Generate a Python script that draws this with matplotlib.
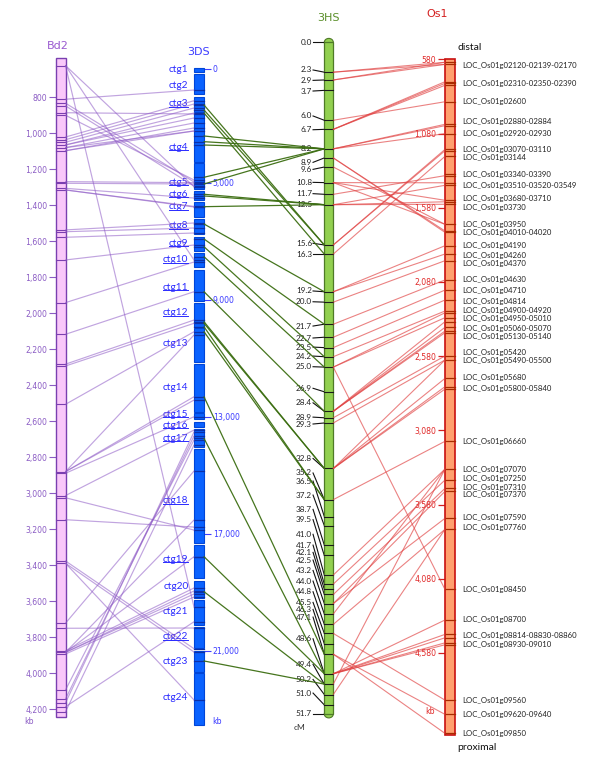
import numpy as np
import matplotlib
matplotlib.use("Agg")
import matplotlib.pyplot as plt
from matplotlib.patches import Rectangle, Ellipse, ConnectionPatch
from matplotlib.lines import Line2D
from matplotlib.transforms import IdentityTransform

# ---------------- data ----------------
bd2_range = (582, 4243)                      # kb
bd2_ticks = list(range(800, 4201, 200))
bd2_bands = [624, 811, 833, 848, 886, 900, 1021, 1036, 1050, 1065, 1080, 1097,
             1269, 1278, 1306, 1315, 1537, 1547, 1578, 1704, 1941, 2117, 2283,
             2293, 2506, 2880, 2889, 3013, 3025, 3147, 3376, 3389, 3722, 3750,
             3875, 3884, 3893, 4093, 4143, 4164, 4186, 4214]

ctg_names = ["ctg%d" % i for i in range(1, 25)]
ctg_start = [-40, 245, 1225, 1925, 4138, 5263, 5639, 6221, 6836, 7380, 7975, 9093,
             9968, 11188, 12874, 13161, 13421, 14105, 17377, 18597, 19257, 20191,
             21002, 21765]
ctg_end = [130, 1120, 1881, 4068, 5215, 5581, 6152, 6744, 7325, 7880, 9035, 9913,
           11110, 12819, 13069, 13353, 14016, 17298, 18515, 19199, 20112, 20909,
           21710, 23543]
ctg_label_pos = [57, 744, 1544, 3438, 4969, 5386, 5810, 6460, 7062, 7633, 8567,
                 9434, 10505, 11985, 12908, 13285, 13730, 15864, 17868, 18781,
                 19660, 20515, 21370, 22587]
ctg_underlined = [3, 4, 5, 6, 7, 8, 9, 10, 11, 12, 15, 16, 17, 18, 19, 22]
ds_ticks = [0, 5000, 9000, 13000, 17000, 21000]
ds_range = (-380, 23702)

hs_markers = [0.0, 2.3, 2.9, 3.7, 6.0, 6.7, 8.2, 8.9, 9.6, 10.8, 11.7, 12.5, 15.6,
              16.3, 19.2, 20.0, 21.7, 22.7, 23.5, 24.2, 25.0, 26.9, 28.4, 28.9,
              29.3, 32.8, 35.2, 36.5, 37.2, 38.7, 39.5, 41.0, 41.7, 42.1, 42.5,
              43.2, 44.0, 44.8, 45.5, 46.3, 47.1, 48.6, 49.4, 50.2, 51.0, 51.7]
hs_label_pos = [0.0, 2.13, 2.93, 3.75, 5.67, 6.73, 8.16, 9.24, 9.78, 10.78, 11.65,
                12.45, 15.47, 16.30, 19.14, 19.97, 21.84, 22.76, 23.46, 24.15,
                24.97, 26.63, 27.75, 28.85, 29.38, 32.03, 33.15, 33.77, 34.85,
                35.95, 36.74, 37.87, 38.70, 39.26, 39.85, 40.65, 41.47, 42.29,
                43.11, 43.65, 44.24, 45.91, 47.88, 49.04, 50.09, 51.70]

os_range = (580, 5133)
os_ticks = [580, 1080, 1580, 2080, 2580, 3080, 3580, 4080, 4580]
os_bands = [600, 614, 731, 742, 755, 866, 1018, 1027, 1081, 1187, 1196, 1234,
            1351, 1364, 1412, 1429, 1530, 1540, 1557, 1692, 1737, 1746, 1836,
            1892, 1937, 2067, 2135, 2202, 2276, 2288, 2321, 2348, 2386, 2411,
            2422, 2579, 2606, 2730, 2786, 2802, 3154, 3341, 3415, 3471, 3491,
            3673, 3747, 4152, 4358, 4455, 4478, 4512, 4525, 4898, 4994, 5122]
gene_labels = ["LOC_Os01g02120-02139-02170", "LOC_Os01g02310-02350-02390",
               "LOC_Os01g02600", "LOC_Os01g02880-02884", "LOC_Os01g02920-02930",
               "LOC_Os01g03070-03110", "LOC_Os01g03144", "LOC_Os01g03340-03390",
               "LOC_Os01g03510-03520-03549", "LOC_Os01g03680-03710",
               "LOC_Os01g03730", "LOC_Os01g03950", "LOC_Os01g04010-04020",
               "LOC_Os01g04190", "LOC_Os01g04260", "LOC_Os01g04370",
               "LOC_Os01g04630", "LOC_Os01g04710", "LOC_Os01g04814",
               "LOC_Os01g04900-04920", "LOC_Os01g04950-05010",
               "LOC_Os01g05060-05070", "LOC_Os01g05130-05140", "LOC_Os01g05420",
               "LOC_Os01g05490-05500", "LOC_Os01g05680", "LOC_Os01g05800-05840",
               "LOC_Os01g06660", "LOC_Os01g07070", "LOC_Os01g07250",
               "LOC_Os01g07310", "LOC_Os01g07370", "LOC_Os01g07590",
               "LOC_Os01g07760", "LOC_Os01g08450", "LOC_Os01g08700",
               "LOC_Os01g08814-08830-08860", "LOC_Os01g08930-09010",
               "LOC_Os01g09560", "LOC_Os01g09620-09640", "LOC_Os01g09850"]
gene_label_pos = [623, 744, 866, 996, 1077, 1191, 1245, 1358, 1432, 1521, 1580,
                  1692, 1746, 1836, 1901, 1955, 2067, 2135, 2209, 2276, 2328,
                  2391, 2445, 2557, 2611, 2726, 2800, 3154, 3346, 3408, 3462,
                  3514, 3666, 3737, 4152, 4357, 4464, 4522, 4902, 4992, 5125]

# Bd2 kb -> 3DS kb
bd2_ds = [(624, 5126), (624, 7633), (624, 19496), (811, 932), (833, 4956),
          (848, 5103), (886, 1981), (900, 4868), (1021, 1400), (1036, 1544),
          (1050, 1719), (1065, 1938), (1065, 2156), (1080, 2375), (1097, 2594),
          (1097, 2725), (1080, 2725), (1269, 4986), (1278, 5034), (1306, 5513),
          (1315, 5821), (1315, 5800), (1537, 6368), (1547, 6539), (1578, 6710),
          (1704, 7120), (1941, 7701), (2117, 8717), (2283, 9685), (2293, 9798),
          (2506, 10085), (2880, 10198), (2880, 12308), (2880, 12421),
          (2889, 12992), (3013, 13447), (3025, 16866), (3147, 16764),
          (3376, 20923), (3389, 21036), (3389, 22675), (3722, 14847),
          (3750, 20215), (3875, 18847), (3884, 18949), (3884, 19052),
          (3893, 19154), (3884, 17777), (3884, 16522), (4093, 13788),
          (4143, 13651), (4164, 13514), (4186, 20001), (4214, 13959)]
# 3DS kb -> 3HS cM
ds_hs = [(1588, 15.6), (1807, 15.6), (1938, 16.3), (2944, 8.2), (3193, 8.2),
         (3338, 8.2), (4750, 8.2), (5034, 8.2), (5386, 12.5), (5444, 12.5),
         (5810, 12.5), (6402, 19.2), (6915, 21.7), (7179, 24.2), (7521, 25.0),
         (8717, 28.4), (9744, 32.8), (9798, 32.8), (9915, 35.2), (10085, 35.2),
         (12308, 47.1), (13730, 48.6), (17776, 48.6), (18973, 49.4),
         (21342, 49.4)]
# 3HS cM -> Os1 kb
hs_os = [(2.3, 600), (2.3, 614), (2.9, 600), (2.9, 614), (6.0, 866), (6.7, 731),
         (6.7, 742), (6.7, 755), (8.2, 1018), (8.2, 1027), (8.2, 1081),
         (8.9, 1737), (8.9, 1746), (9.6, 1692), (10.8, 1412), (10.8, 1530),
         (10.8, 1692), (11.7, 1364), (12.5, 1429), (12.5, 1540), (12.5, 1557),
         (15.6, 1187), (15.6, 1196), (16.3, 1234), (19.2, 1836), (19.2, 1892),
         (20.0, 1937), (21.7, 2067), (22.7, 2135), (23.5, 2202), (24.2, 2276),
         (25.0, 2288), (25.0, 2321), (25.0, 4152), (28.4, 2348), (28.4, 2386),
         (28.4, 2411), (28.4, 2422), (28.9, 2579), (29.3, 2606), (32.8, 2606),
         (32.8, 2730), (32.8, 2786), (32.8, 2802), (35.2, 3154), (41.0, 3341),
         (41.7, 3415), (42.5, 3471), (43.2, 3491), (43.2, 3673), (44.0, 3341),
         (44.8, 3747), (45.5, 4898), (47.1, 4994), (47.1, 5122), (48.6, 4358),
         (48.6, 4455), (48.6, 4478), (48.6, 4512), (48.6, 4525), (49.4, 3341),
         (50.2, 3747)]

# ---------------- styles ----------------
PURPLE_TXT = "#8b5cc4"
BLUE = "#2a2aff"
GREEN_TXT = "#5a8f29"
RED = "#d42020"
NUMFONT = ["DejaVu Sans"]
TXTFONT = ["Lato", "DejaVu Sans"]

W, H = 600, 760
fig = plt.figure(figsize=(W / 100, H / 100), dpi=100)


def add_col(x0, x1, y0, y1):
    ax = fig.add_axes([x0 / W, 1 - y1 / H, (x1 - x0) / W, (y1 - y0) / H])
    ax.set_xlim(0, 1)
    ax.set_xticks([])
    for s in ax.spines.values():
        s.set_visible(False)
    ax.patch.set_visible(False)
    return ax


def ftext(x, y, s, **kw):
    return fig.text(x / W, 1 - y / H, s, **kw)


# ---- Bd2 ----
ax_bd = add_col(56, 65.5, 58, 717)
ax_bd.set_ylim(bd2_range[1], bd2_range[0])
ax_bd.add_patch(Rectangle((0, bd2_range[0]), 1, bd2_range[1] - bd2_range[0],
                          facecolor="#f9c8fa", edgecolor="#7a3fb0", lw=1.0,
                          clip_on=False, zorder=2))
for b in bd2_bands:
    ax_bd.plot([0, 1], [b, b], color="#7a3fb0", lw=0.8, clip_on=False, zorder=3)
ax_bd.set_yticks(bd2_ticks)
ax_bd.set_yticklabels(["{:,}".format(t) for t in bd2_ticks], family=NUMFONT)
ax_bd.tick_params(axis="y", length=5, width=0.8, color=PURPLE_TXT,
                  labelcolor=PURPLE_TXT, labelsize=5.6, pad=1.2)
ftext(58, 46, "Bd2", color="#9a5ad0", fontsize=8, family=NUMFONT,
      ha="center", va="center")
ftext(29, 721, "kb", color=PURPLE_TXT, fontsize=5.6, family=NUMFONT,
      ha="center", va="center")

# ---- 3DS ----
r = 0.02286 / 0.02925


def ds_fwd(x):
    return np.interp(x, [-5000, 0, 5000, 40000],
                     [-5000 * r, 0, 5000 * r, 5000 * r + 35000])


def ds_inv(u):
    return np.interp(u, [-5000 * r, 0, 5000 * r, 5000 * r + 35000],
                     [-5000, 0, 5000, 40000])


ax_ds = add_col(194, 204, 60, 730)
ax_ds.set_yscale("function", functions=(ds_fwd, ds_inv))
ax_ds.set_ylim(ds_range[1], ds_range[0])
for s0, s1 in zip(ctg_start, ctg_end):
    ax_ds.add_patch(Rectangle((0, s0), 1, s1 - s0, facecolor="#0a62ff",
                              edgecolor="#0045d8", lw=0.8, clip_on=False,
                              zorder=2))
ds_band_vals = sorted(set([p[1] for p in bd2_ds] + [p[0] for p in ds_hs]))
for b in ds_band_vals:
    ax_ds.plot([0, 1], [b, b], color="#0a2fa8", lw=0.9, clip_on=False, zorder=3)
ax_ds.yaxis.tick_right()
ax_ds.set_yticks(ds_ticks)
ax_ds.set_yticklabels(["{:,}".format(t) for t in ds_ticks], family=NUMFONT)
ax_ds.yaxis.set_minor_locator(matplotlib.ticker.NullLocator())
ax_ds.tick_params(axis="y", which="both", length=5, width=0.8, color="#4040ff",
                  labelcolor="#3a3aff", labelsize=5.6, pad=1.2)
ctg_texts = []
for i, (name, pos) in enumerate(zip(ctg_names, ctg_label_pos)):
    t = ax_ds.text(-0.55, pos, name, transform=ax_ds.get_yaxis_transform(),
                   ha="right", va="center", color=BLUE, fontsize=7.3,
                   family=TXTFONT)
    ctg_texts.append((i + 1, t))
ftext(198, 52, "3DS", color="#3b3bff", fontsize=8, family=NUMFONT,
      ha="center", va="center")
ftext(217, 722, "kb", color="#3a3aff", fontsize=5.6, family=NUMFONT,
      ha="center", va="center")

# ---- 3HS ----
ax_hs = add_col(324.3, 333.3, 38, 718)
ax_hs.set_yticks([])
hs_top, hs_bot = 0.0, 51.7
cmpp = 51.7 / 671.7
ax_hs.set_ylim(hs_bot + 4 * cmpp, hs_top - 4.3 * cmpp)
yt = ax_hs.get_yaxis_transform()
for yc in (hs_top, hs_bot):
    ax_hs.add_patch(Ellipse((0.5, yc), 1.0, 0.6, transform=yt,
                            facecolor="#92d050", edgecolor="#4f7a28", lw=0.8,
                            clip_on=False, zorder=2))
ax_hs.add_patch(Rectangle((0, hs_top), 1, hs_bot - hs_top, facecolor="#92d050",
                          edgecolor="#4f7a28", lw=0.9, clip_on=False, zorder=3))
for m, lp in zip(hs_markers, hs_label_pos):
    if 0 < m < 51.7:
        ax_hs.plot([0, 1], [m, m], color="#1a1a1a", lw=0.8, clip_on=False,
                   transform=yt, zorder=4)
    ax_hs.add_line(Line2D([-1.25, 0], [lp, m], transform=yt, color="#111111",
                          lw=0.8, clip_on=False))
    ax_hs.text(-1.36, lp, "%.1f" % m, transform=yt, ha="right", va="center",
               fontsize=5.9, color="#222222", family=TXTFONT)
ftext(328, 18, "3HS", color=GREEN_TXT, fontsize=8, family=NUMFONT,
      ha="center", va="center")
ftext(300, 727, "cM", color="#333333", fontsize=6.0, family=TXTFONT,
      ha="center", va="center")

# ---- Os1 ----
ax_os = add_col(445, 455, 59.3, 735)
ax_os.set_ylim(os_range[1], os_range[0])
ax_os.add_patch(Rectangle((0, os_range[0]), 1, os_range[1] - os_range[0],
                          facecolor="#ffa06e", edgecolor="#c81010", lw=1.2,
                          clip_on=False, zorder=2))
for b in os_bands:
    ax_os.plot([0, 1], [b, b], color="#a82a00", lw=0.9, clip_on=False, zorder=3)
ax_os.set_yticks(os_ticks)
ax_os.set_yticklabels(["{:,}".format(t) for t in os_ticks], family=NUMFONT)
ax_os.tick_params(axis="y", length=5, width=0.9, color=RED, labelcolor="#e02828",
                  labelsize=5.6, pad=1.2)
yt_os = ax_os.get_yaxis_transform()
for lab, pos in zip(gene_labels, gene_label_pos):
    ax_os.text(1.72, pos, lab, transform=yt_os, ha="left", va="center",
               fontsize=5.6, color="#222222", family=TXTFONT)
ftext(437, 14, "Os1", color=RED, fontsize=8, family=NUMFONT,
      ha="center", va="center")
ftext(457.5, 47, "distal", color="#111111", fontsize=7.5, family=TXTFONT,
      ha="left", va="center")
ftext(457, 748, "proximal", color="#111111", fontsize=7.5, family=TXTFONT,
      ha="left", va="center")
ftext(430, 712, "kb", color="#e02828", fontsize=5.6, family=NUMFONT,
      ha="center", va="center")


# ---- connections ----
def connect(axA, yA, axB, yB, color, lw, alpha):
    cp = ConnectionPatch(xyA=(1, yA), coordsA=axA.get_yaxis_transform(),
                         xyB=(0, yB), coordsB=axB.get_yaxis_transform(),
                         color=color, lw=lw, alpha=alpha, zorder=1)
    fig.add_artist(cp)


for a, b in bd2_ds:
    connect(ax_bd, a, ax_ds, b, "#8e5ac6", 0.85, 0.55)
for a, b in ds_hs:
    connect(ax_ds, a, ax_hs, b, "#3c6e12", 0.9, 0.95)
for a, b in hs_os:
    connect(ax_hs, a, ax_os, b, "#e04040", 0.8, 0.65)

# ---- underline some contig labels ----
fig.canvas.draw()
rend = fig.canvas.get_renderer()
for idx, t in ctg_texts:
    if idx in ctg_underlined:
        bb = t.get_window_extent(rend)
        yy = bb.y0 + 0.17 * bb.height
        fig.add_artist(Line2D([bb.x0, bb.x1], [yy, yy],
                              transform=IdentityTransform(),
                              color=BLUE, lw=0.7))

fig.savefig("out.png", dpi=100)
